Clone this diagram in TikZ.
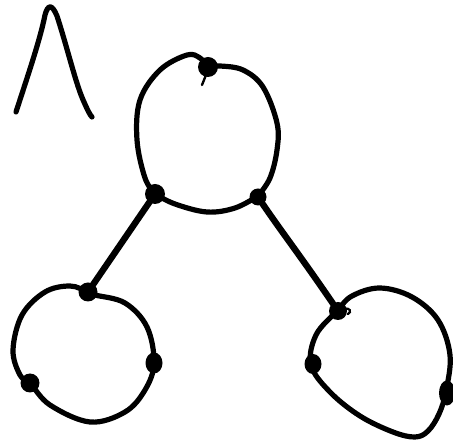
\documentclass[tikz,border=0pt]{standalone}
\usetikzlibrary{shapes.geometric}
\begin{document}
\begin{tikzpicture}[x=1pt,y=-1pt,
  stroke/.style={line width=5.2pt,line cap=round,line join=round},
  bond/.style={line width=6.4pt,line cap=round},
  dot/.style={circle,fill=black,inner sep=0pt,minimum size=#1},
  dot/.default=19pt,
  edot/.style={ellipse,fill=black,inner sep=0pt}]
\useasboundingbox (0,0) rectangle (453,443);
% lambda
\draw[stroke] (16,112) .. controls (28,75) and (40,40) .. (45,15)
  .. controls (48,4) and (52,4) .. (57,16)
  .. controls (68,50) and (76,85) .. (84,102)
  .. controls (88,111) and (90,115) .. (92,117);
% top circle
\draw[stroke] plot[smooth, tension=0.6] coordinates {(155,194) (145,178) (137,140) (140,100) (160,70) (187,55) (200,58) (208,67)};
\draw[stroke] plot[smooth, tension=0.6] coordinates {(208,67) (220,66) (243,70) (263,87) (277,123) (277,150) (270,178) (258,196)};
\draw[stroke] plot[smooth, tension=0.6] coordinates {(155,194) (175,204) (207,212) (235,208) (258,196)};
\draw[line width=2.4pt,line cap=round] (206,75) -- (202,85);
% bottom-left circle
\draw[stroke] plot[smooth cycle, tension=0.6] coordinates {(88,292) (70,286) (45,292) (22,315) (13,350) (20,375) (30,383) (50,405) (90,422) (125,412) (145,390) (154,363) (147,327) (125,303) (95,295)};
% bottom-right circle
\draw[stroke] plot[smooth cycle, tension=0.6] coordinates {(337,311) (352,296) (380,288) (412,297) (438,320) (450,355) (446,391) (439,414) (428,431) (415,437) (393,432) (360,416) (330,392) (311,365) (316,335)};
\draw[line width=2.2pt,line cap=round] (344,309) .. controls (350,307) and (352,312) .. (348,314);
% dots
\node[dot=20pt] (t1) at (208,67) {};
\node[dot=20pt] (t2) at (155,194) {};
\node[dot=17pt] (t3) at (258,197) {};
\node[dot] (l1) at (88,292) {};
\node[edot,minimum width=17pt,minimum height=21pt] (l2) at (154,363) {};
\node[dot=19pt] (l3) at (30,383) {};
\node[dot=18pt] (r1) at (338,311) {};
\node[edot,minimum width=17pt,minimum height=20pt] (r2) at (313,364) {};
\node[edot,minimum width=16pt,minimum height=25pt] (r3) at (447,393) {};
% connectors
\draw[bond] (t2.center) -- (l1.center);
\draw[bond] (t3.center) .. controls (280,230) and (300,255) .. (r1.center);
\end{tikzpicture}
\end{document}
